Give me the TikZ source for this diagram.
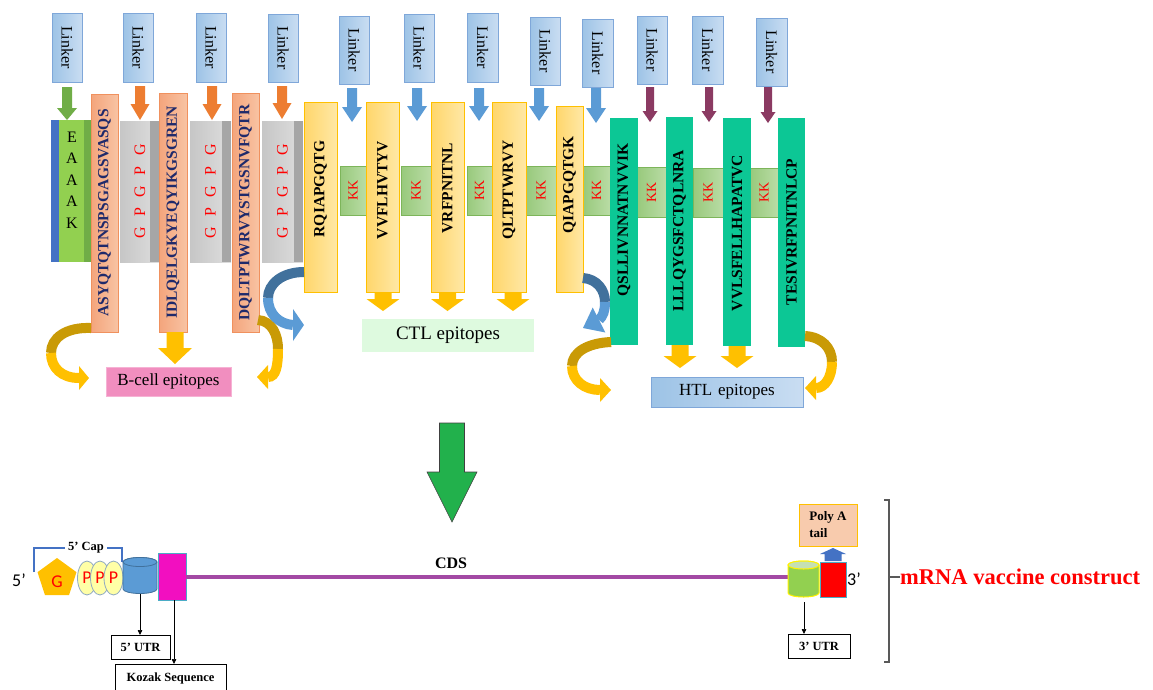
\documentclass[tikz,border=0pt]{standalone}
\usepackage{fontspec}
\usepackage{graphicx}
\setmainfont{Liberation Serif}
\newfontfamily\calfont{Carlito}
\usetikzlibrary{shapes.geometric,arrows.meta}
\newcommand\setfs[1]{\fontsize{#1}{#1}\selectfont}
\newcommand\rup[1]{\rotatebox{90}{#1}}
\newcommand\rdn[1]{\rotatebox{-90}{#1}}
% block arrow: style, x, y-start, y-tip, half shaft, half head, head length
\newcommand\blockarrow[7]{\path[#1] ({#2-#5},#3) -- ({#2+#5},#3) -- ({#2+#5},{#4-(#7)}) -- ({#2+#6},{#4-(#7)}) -- (#2,#4) -- ({#2-#6},{#4-(#7)}) -- ({#2-#5},{#4-(#7)}) -- cycle;}
\definecolor{linkL}{HTML}{9DC3E6}
\definecolor{linkR}{HTML}{C9DDF2}
\definecolor{linkBd}{HTML}{7FA7D9}
\definecolor{arBlue}{HTML}{5B9BD5}
\definecolor{arOrange}{HTML}{ED7D31}
\definecolor{arGreen}{HTML}{70AD47}
\definecolor{arPurple}{HTML}{8B3A62}
\definecolor{bcL}{HTML}{F4A57C}
\definecolor{bcR}{HTML}{F8C3A3}
\definecolor{bcBd}{HTML}{F0915E}
\definecolor{navy}{HTML}{1F2A6B}
\definecolor{grL}{HTML}{C6C6C6}
\definecolor{grR}{HTML}{DEDEDE}
\definecolor{grD}{HTML}{A6A6A6}
\definecolor{ctlL}{HTML}{FFD66B}
\definecolor{ctlR}{HTML}{FFE8A6}
\definecolor{ctlBd}{HTML}{FFC000}
\definecolor{kkL}{HTML}{98C97C}
\definecolor{kkR}{HTML}{B9DCA5}
\definecolor{kkBd}{HTML}{7DB55A}
\definecolor{htlC}{HTML}{0CC795}
\definecolor{goldL}{HTML}{FFC000}
\definecolor{goldD}{HTML}{C99A06}
\definecolor{blueD}{HTML}{41719C}
\definecolor{eBlue}{HTML}{4472C4}
\definecolor{eGreen}{HTML}{92D050}
\definecolor{eGreenD}{HTML}{70AD47}
\definecolor{pinkLab}{HTML}{F18EBF}
\definecolor{pinkBd}{HTML}{F6B2D4}
\definecolor{ctlLab}{HTML}{DEFADF}
\definecolor{bigGreen}{HTML}{22B14C}
\definecolor{mrna}{HTML}{A349A4}
\definecolor{kozakC}{HTML}{F20FC0}
\definecolor{cylB}{HTML}{5B9BD5}
\definecolor{pent}{HTML}{FFC000}
\definecolor{pyel}{HTML}{FFFFA6}
\definecolor{pbd}{HTML}{8EA9C1}
\definecolor{polyA}{HTML}{F8CBAD}
\definecolor{boxBd}{HTML}{4BACC6}
\definecolor{cylTop}{HTML}{C5E0B4}
\definecolor{brk}{HTML}{595959}
\begin{document}
\begin{tikzpicture}[x=1pt,y=-1pt,
 box/.style={rectangle,inner sep=0pt,outer sep=0pt},
 linker/.style={box,draw=linkBd,line width=0.8pt,left color=linkL,right color=linkR,font=\setfs{16}},
 bcell/.style={box,draw=bcBd,line width=0.8pt,left color=bcL,right color=bcR,font=\setfs{15.5}\bfseries,text=navy},
 graybox/.style={box,left color=grL,right color=grR,font=\setfs{16},text=red},
 ctlbox/.style={box,draw=ctlBd,line width=0.8pt,left color=ctlL,right color=ctlR},
 kkbox/.style={box,draw=kkBd,line width=0.5pt,left color=kkL,right color=kkR,font=\setfs{14},text=red},
 htlbox/.style={box,fill=htlC},
 seqtext/.style={inner sep=0pt,font=\setfs{15.5}\bfseries},
 band/.style={line width=10pt},
 thinar/.style={draw=black,line width=0.7pt,-{Triangle[length=5pt,width=4.5pt]}},
 blab/.style={box,draw=black,line width=0.8pt,fill=white,font=\setfs{12.5}\bfseries},
 calib/.style={font=\calfont\setfs{18},inner sep=0pt}
]
\useasboundingbox (0,0) rectangle (1153,689);
\fill[white] (0,0) rectangle (1153,689);

% ---------- Linker boxes ----------
\node[linker,minimum width=30,minimum height=69] (L1) at (67,47.5) {\rdn{Linker}};
\node[linker,minimum width=30,minimum height=69] (L2) at (138,47.5) {\rdn{Linker}};
\node[linker,minimum width=30,minimum height=69] (L3) at (211,47.5) {\rdn{Linker}};
\node[linker,minimum width=30,minimum height=68] (L4) at (283,48) {\rdn{Linker}};
\node[linker,minimum width=30,minimum height=68] (L5) at (354,50) {\rdn{Linker}};
\node[linker,minimum width=30,minimum height=68] (L6) at (419,48) {\rdn{Linker}};
\node[linker,minimum width=31,minimum height=69] (L7) at (482.5,47.5) {\rdn{Linker}};
\node[linker,minimum width=30,minimum height=68] (L8) at (545,51) {\rdn{Linker}};
\node[linker,minimum width=31,minimum height=68] (L9) at (597.5,53) {\rdn{Linker}};
\node[linker,minimum width=30,minimum height=68] (L10) at (652,50) {\rdn{Linker}};
\node[linker,minimum width=31,minimum height=68] (L11) at (707.5,50) {\rdn{Linker}};
\node[linker,minimum width=31,minimum height=68] (L12) at (771.5,52) {\rdn{Linker}};

% ---------- linker arrows ----------
\blockarrow{fill=arGreen}{67}{87}{120}{5}{10}{12}
\blockarrow{fill=arOrange}{140}{86}{120}{5}{9.5}{16}
\blockarrow{fill=arOrange}{212}{86}{120}{5}{9.5}{16}
\blockarrow{fill=arOrange}{282}{86}{119}{5}{9.5}{16}
\blockarrow{fill=arBlue}{352}{88}{122}{5}{10}{15}
\blockarrow{fill=arBlue}{417}{88}{121}{5}{10}{15}
\blockarrow{fill=arBlue}{479}{88}{121}{5}{10}{15}
\blockarrow{fill=arBlue}{539}{88}{121}{5}{10}{15}
\blockarrow{fill=arBlue}{596}{88}{123}{5}{10}{15}
\blockarrow{fill=arPurple}{650}{87}{122}{4}{7.5}{11}
\blockarrow{fill=arPurple}{709}{87}{122}{4}{7.5}{11}
\blockarrow{fill=arPurple}{768}{87}{123}{4}{7.5}{11}

% ---------- KK boxes ----------
\node[kkbox,minimum width=26,minimum height=49] (K1) at (353,190.5) {\rup{KK}};
\node[kkbox,minimum width=30,minimum height=49] (K2) at (416,190.5) {\rup{KK}};
\node[kkbox,minimum width=25,minimum height=49] (K3) at (479.5,190.5) {\rup{KK}};
\node[kkbox,minimum width=30,minimum height=49] (K4) at (541,190.5) {\rup{KK}};
\node[kkbox,minimum width=27,minimum height=49] (K5) at (596.5,190.5) {\rup{KK}};
\node[kkbox,minimum width=29,minimum height=50] (K6) at (651.5,192) {\rup{KK}};
\node[kkbox,minimum width=30,minimum height=49] (K7) at (708,192.5) {\rup{KK}};
\node[kkbox,minimum width=28,minimum height=49] (K8) at (764,192.5) {\rup{KK}};

% ---------- EAAAK ----------
\node[box,fill=eGreen,minimum width=41,minimum height=142] (EK) at (71.5,191) {};
\fill[eBlue] (EK.north west) rectangle (59,262);
\fill[eGreenD] (84,120) rectangle (EK.south east);
\node[inner sep=0pt,font=\fontsize{16}{21.5}\selectfont,align=center] (EKt) at (72,180) {E\\A\\A\\A\\K};

% ---------- GPGPG ----------
\node[graybox,minimum width=40,minimum height=141] (G1) at (140,191.5) {\rup{G\hskip10.5pt P\hskip10.5pt G\hskip10.5pt P\hskip10.5pt G}};
\fill[grD] (150,121) rectangle (G1.south east);
\node[graybox,minimum width=41,minimum height=141] (G2) at (210.5,191.5) {\rup{G\hskip10.5pt P\hskip10.5pt G\hskip10.5pt P\hskip10.5pt G}};
\fill[grD] (222,121) rectangle (G2.south east);
\node[graybox,minimum width=41,minimum height=141] (G3) at (282.5,191.5) {\rup{G\hskip10.5pt P\hskip10.5pt G\hskip10.5pt P\hskip10.5pt G}};
\fill[grD] (294,121) rectangle (G3.south east);

% ---------- B-cell epitopes ----------
\node[bcell,minimum width=27,minimum height=238] (B1) at (104.5,213) {\rup{ASYQTQTNSPSGAGSVASQS}};
\node[bcell,minimum width=28,minimum height=239] (B2) at (173,212.5) {\rup{IDLQELGKYEQYIKGSGREN}};
\node[bcell,minimum width=27,minimum height=239] (B3) at (245.5,212.5) {\rup{DQLTPTWRVYSTGSNVFQTR}};

% ---------- CTL epitopes ----------
\node[ctlbox,minimum width=33,minimum height=190] (C1) at (320.5,197) {};
\node[ctlbox,minimum width=33,minimum height=190] (C2) at (382.5,197) {};
\node[ctlbox,minimum width=33,minimum height=190] (C3) at (447.5,197) {};
\node[ctlbox,minimum width=34,minimum height=190] (C4) at (509,197) {};
\node[ctlbox,minimum width=27,minimum height=186] (C5) at (569.5,199) {};
\node[seqtext] (C1t) at (320.5,189) {\rup{RQIAPGQTG}};
\node[seqtext] (C2t) at (382.5,190) {\rup{VVFLHVTYV}};
\node[seqtext] (C3t) at (447.5,188) {\rup{VRFPNITNL}};
\node[seqtext] (C4t) at (509,190) {\rup{QLTPTWRVY}};
\node[seqtext] (C5t) at (569.5,185) {\rup{QIAPGQTGK}};

% ---------- HTL epitopes ----------
\node[htlbox,minimum width=28,minimum height=227] (H1) at (624,231.5) {};
\node[htlbox,minimum width=27,minimum height=228] (H2) at (679.5,231) {};
\node[htlbox,minimum width=28,minimum height=228] (H3) at (737,232) {};
\node[htlbox,minimum width=27,minimum height=229] (H4) at (791.5,232.5) {};
\node[seqtext] (H1t) at (624,220) {\rup{QSLLIVNNATNVVIK}};
\node[seqtext] (H2t) at (679.5,231) {\rup{LLLQYGSFCTQLNRA}};
\node[seqtext] (H3t) at (737,233) {\rup{VVLSFELLHAPATVC}};
\node[seqtext] (H4t) at (791.5,232) {\rup{TESIVRFPNITNLCP}};

% ---------- gold down arrows ----------
\blockarrow{fill=goldL}{175}{332}{364}{8.5}{17}{16}
\blockarrow{fill=goldL}{383}{292}{311}{8.5}{16.5}{12}
\blockarrow{fill=goldL}{447.5}{292}{311}{8.5}{16.5}{12}
\blockarrow{fill=goldL}{513}{292}{311}{8.5}{16.5}{12}
\blockarrow{fill=goldL}{680}{345}{368}{8.5}{16.5}{12}
\blockarrow{fill=goldL}{737}{346}{368}{8.5}{16.5}{12}

% ---------- curved arrows ----------
\coordinate (a1s) at (91,328); \coordinate (a1m) at (51,353); \coordinate (a1e) at (79,378);
\draw[band,goldD] (a1s) .. controls (66,327) and (51,338) .. (a1m);
\draw[band,goldL] (a1m) .. controls (51,368) and (62,378) .. (a1e);
\fill[goldL] (79,366) -- (89,378) -- (79,390) -- cycle;

\coordinate (a2s) at (258,320); \coordinate (a2m) at (278,349); \coordinate (a2e) at (268,377);
\draw[band,goldD] (a2s) .. controls (272,321) and (278,335) .. (a2m);
\draw[band,goldL] (a2m) .. controls (278,366) and (276,377) .. (a2e);
\fill[goldL] (268,365) -- (257,377) -- (268,389) -- cycle;

\coordinate (a5s) at (611,342); \coordinate (a5m) at (572,366); \coordinate (a5e) at (600,390);
\draw[band,goldD] (a5s) .. controls (588,343) and (572,352) .. (a5m);
\draw[band,goldL] (a5m) .. controls (572,381) and (585,390) .. (a5e);
\fill[goldL] (600,378) -- (611,390) -- (600,402) -- cycle;

\coordinate (a6s) at (805,336); \coordinate (a6m) at (832,362); \coordinate (a6e) at (816,388);
\draw[band,goldD] (a6s) .. controls (822,337) and (832,348) .. (a6m);
\draw[band,goldL] (a6m) .. controls (832,377) and (825,388) .. (a6e);
\fill[goldL] (816,376) -- (805,388) -- (816,400) -- cycle;

\coordinate (b1s) at (304,272); \coordinate (b1m) at (268,298); \coordinate (b1e) at (293,325);
\draw[band,blueD] (b1s) .. controls (282,272) and (268,284) .. (b1m);
\draw[band,arBlue] (b1m) .. controls (268,314) and (279,324) .. (b1e);
\fill[arBlue] (293,309) -- (304,325) -- (293,341) -- cycle;

\coordinate (b2s) at (583,278); \coordinate (b2m) at (605,302); \coordinate (b2e) at (599,320);
\draw[band,blueD] (b2s) .. controls (597,279) and (605,290) .. (b2m);
\draw[band,arBlue] (b2m) .. controls (605,311) and (603,316) .. (b2e);
\fill[arBlue] (592.7,307.5) -- (583,328) -- (605.3,332.5) -- cycle;

% ---------- group labels ----------
\node[box,fill=pinkLab,draw=pinkBd,line width=0.6pt,minimum width=125,minimum height=29,font=\setfs{17}] (Blab) at (168.5,381.5) {B-cell\hspace{4pt}epitopes};
\node[box,fill=ctlLab,minimum width=172,minimum height=33,font=\setfs{19}] (Clab) at (448,335.5) {CTL epitopes};
\node[box,draw=linkBd,line width=0.6pt,left color=linkL,right color=linkR,minimum width=152,minimum height=30,font=\setfs{17}] (Hlab) at (727,392) {HTL\hspace{6pt}epitopes};

% ---------- big arrow ----------
\blockarrow{fill=bigGreen,draw=black!75,line width=0.6pt}{452}{423}{522}{12.5}{25}{50}

% ---------- mRNA construct ----------
\node[box,fill=kozakC,draw=boxBd,line width=0.6pt,minimum width=28,minimum height=47] (kz) at (172,576.5) {};
\coordinate (g3w) at (788,576.5);
\draw[mrna,line width=4pt] (kz.east) -- (g3w);
\node[font=\setfs{16}\bfseries,inner sep=0pt] (cds) at (451,563) {CDS};

% 5' cap
\node[calib] (t5) at (19,580) {5’};
\node[regular polygon,regular polygon sides=5,minimum size=41,inner sep=0pt,fill=pent] (pg) at (57,578.5) {};
\node[calib,text=red] (pgt) at (57,582) {G};
\node[ellipse,minimum width=19,minimum height=34,inner sep=0pt,fill=pyel,draw=pbd,line width=0.8pt,font=\calfont\setfs{18},text=red] (p1) at (87,578) {P};
\node[ellipse,minimum width=19,minimum height=34,inner sep=0pt,fill=pyel,draw=pbd,line width=0.8pt,font=\calfont\setfs{18},text=red] (p2) at (100,578) {P};
\node[ellipse,minimum width=19,minimum height=34,inner sep=0pt,fill=pyel,draw=pbd,line width=0.8pt,font=\calfont\setfs{18},text=red] (p3) at (113.5,578) {P};
\node[font=\setfs{12.5}\bfseries,inner sep=3pt] (cap) at (86,548) {5’ Cap};
\draw[eBlue,line width=1.5pt] (34,572) -- (34,548) -- (cap.west);
\draw[eBlue,line width=1.5pt] (cap.east) -- (122,548) -- (122,562);

% 5' UTR cylinder
\path[fill=cylB,draw=blueD,line width=0.8pt] (123,562) -- (123,589) arc[start angle=180,end angle=0,x radius=17,y radius=4.5] -- (157,562) arc[start angle=0,end angle=-180,x radius=17,y radius=4.5] -- cycle;
\path[fill=cylB,draw=blueD,line width=0.8pt] (140,562) ellipse[x radius=17,y radius=4.5];
\coordinate (c5b) at (140,594);
\node[blab,minimum width=59,minimum height=24] (u5) at (140.5,647) {5’ UTR};
\draw[thinar] (c5b) -- (c5b |- u5.north);
\node[blab,minimum width=111,minimum height=28] (kzl) at (170.5,678) {Kozak Sequence};
\coordinate (kzb) at (174,600);
\draw[thinar] (kzb) -- (kzb |- kzl.north);

% 3' end
\path[fill=eGreen,draw=yellow,line width=1pt] (788,565) -- (788,593) arc[start angle=180,end angle=0,x radius=15.5,y radius=4] -- (819,565) arc[start angle=0,end angle=-180,x radius=15.5,y radius=4] -- cycle;
\path[fill=cylTop,draw=yellow,line width=1pt] (803.5,565) ellipse[x radius=15.5,y radius=4];
\node[box,fill=red,draw=boxBd,line width=0.6pt,minimum width=26,minimum height=35] (rb) at (833,579.5) {};
\node[calib,anchor=west,inner sep=1pt] (t3) at (rb.east) {3’};
\blockarrow{fill=eBlue}{833}{561}{548}{8.5}{13}{-6}
\node[box,fill=polyA,draw=goldL,line width=0.8pt,minimum width=58,minimum height=42,align=left,font=\fontsize{13}{17}\selectfont\bfseries] (pa) at (828,525) {Poly A\\tail};
\coordinate (c3b) at (804,602);
\node[blab,minimum width=62,minimum height=24] (u3) at (819,646) {3’ UTR};
\draw[thinar] (c3b) -- (c3b |- u3.north);

% bracket and title
\draw[brk,line width=1.5pt] (884,500) -- (889,500) -- (889,662) -- (884,662);
\node[anchor=west,inner sep=0pt,text=red,font=\setfs{22.5}\bfseries] (mr) at (900,577) {mRNA vaccine construct};
\draw[brk,line width=1.5pt] (889,577) -- (mr.west);
\end{tikzpicture}
\end{document}
